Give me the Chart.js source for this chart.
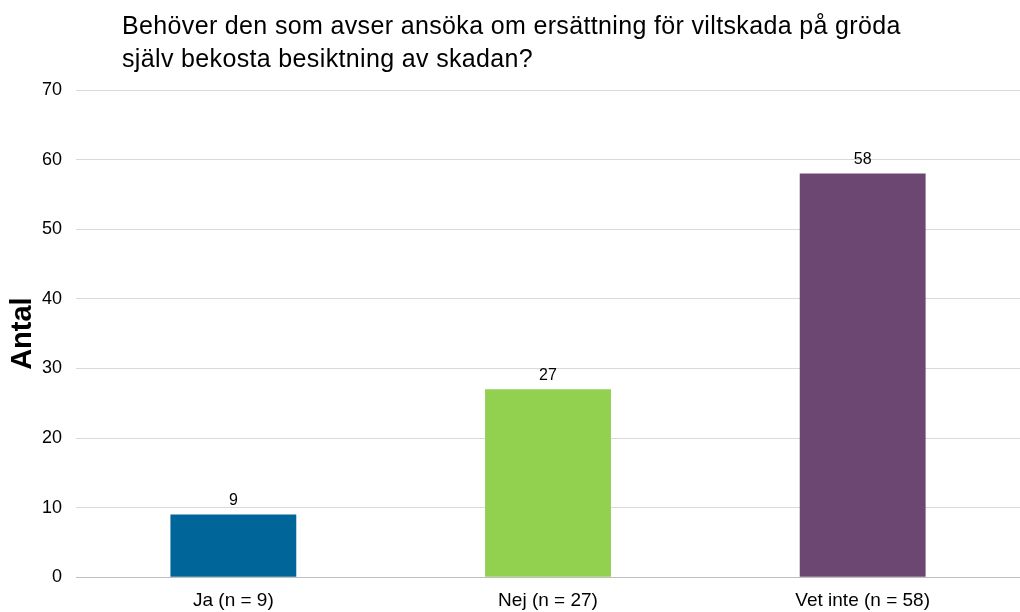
<!DOCTYPE html>
<html>
<head>
<meta charset="utf-8">
<script src="https://cdn.jsdelivr.net/npm/chart.js@4"></script>
<style>
  html, body { margin: 0; padding: 0; background: #fff; }
  #wrap { width: 1020px; height: 612px; }
</style>
</head>
<body>
<div id="wrap"><canvas id="myChart"></canvas></div>
<script>
const categories = ['Ja (n = 9)', 'Nej (n = 27)', 'Vet inte (n = 58)'];
const values = [9, 27, 58];
const barColors = ['#006699', '#92D050', '#6B4771'];
const titleLines = ['Behöver den som avser ansöka om ersättning för viltskada på gröda',
                    'själv bekosta besiktning av skadan?'];
const yTitle = 'Antal';

const FONT = '"Liberation Sans", Arial, sans-serif';

// title, axis title and value labels drawn by hand
const extras = {
  id: 'extras',
  afterDatasetsDraw(chart) {
    const ctx = chart.ctx;
    ctx.save();
    ctx.fillStyle = '#000';
    ctx.font = '25px ' + FONT;
    ctx.letterSpacing = '0.35px';
    ctx.textAlign = 'left';
    ctx.textBaseline = 'alphabetic';
    ctx.fillText(titleLines[0], 122, 34);
    ctx.fillText(titleLines[1], 122, 67);
    ctx.letterSpacing = '0px';

    ctx.font = '16px ' + FONT;
    ctx.textAlign = 'center';
    ctx.textBaseline = 'bottom';
    chart.getDatasetMeta(0).data.forEach((bar, i) => {
      ctx.fillText(values[i], bar.x, bar.y - 6);
    });

    // y axis title
    const a = chart.chartArea;
    ctx.translate(23, (a.top + a.bottom) / 2);
    ctx.rotate(-Math.PI / 2);
    ctx.font = 'bold 29px ' + FONT;
    ctx.textBaseline = 'middle';
    ctx.fillText(yTitle, 0, 0);
    ctx.restore();
  }
};

const ctx = document.getElementById('myChart');
const myChart = new Chart(ctx, {
  type: 'bar',
  data: {
    labels: categories,
    datasets: [{
      data: values,
      backgroundColor: barColors,
      barPercentage: 0.4,
      categoryPercentage: 1.0
    }]
  },
  options: {
    responsive: true,
    maintainAspectRatio: false,
    animation: false,
    layout: { padding: { top: 90, right: 0, left: 28, bottom: -12 } },
    plugins: {
      legend: { display: false },
      tooltip: { enabled: false }
    },
    scales: {
      x: {
        grid: { display: false, drawTicks: false },
        border: { color: '#bfbfbf', width: 1 },
        ticks: {
          color: '#000',
          padding: 12,
          font: { family: FONT, size: 19 }
        }
      },
      y: {
        min: 0,
        max: 70,
        ticks: {
          stepSize: 10,
          color: '#000',
          padding: 14,
          font: { family: FONT, size: 18 }
        },
        grid: { color: '#d9d9d9', drawTicks: false },
        border: { display: false }
      }
    }
  },
  plugins: [extras]
});
</script>
</body>
</html>
